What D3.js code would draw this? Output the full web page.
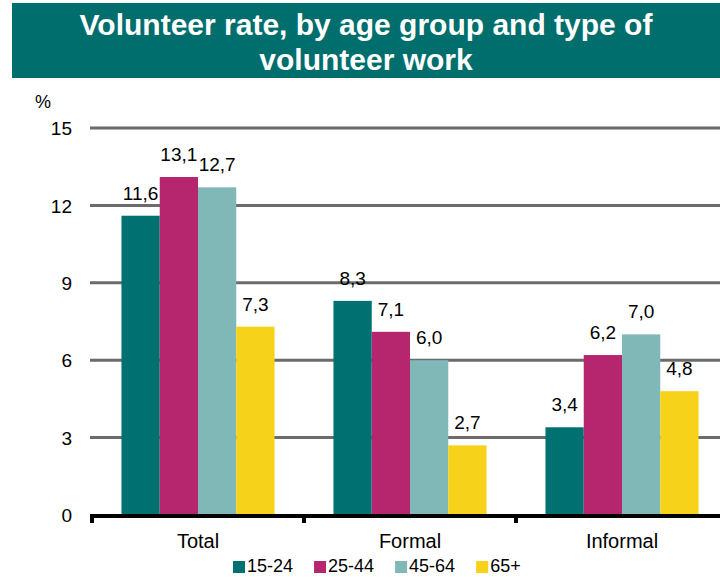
<!DOCTYPE html>
<html>
<head>
<meta charset="utf-8">
<script src="https://cdn.jsdelivr.net/npm/d3@7"></script>
<style>
  html, body { margin: 0; padding: 0; background: #ffffff; }
  svg { display: block; font-family: "Liberation Sans", Arial, sans-serif; }
</style>
</head>
<body>
<svg id="chart" width="720" height="577"></svg>
<script>
const titleLines = ["Volunteer rate, by age group and type of", "volunteer work"];
const categories = ["Total", "Formal", "Informal"];
const seriesNames = ["15-24", "25-44", "45-64", "65+"];
const seriesColors = ["#007070", "#b5266f", "#80b7b7", "#f6d21b"];
const values15_24 = [11.6, 8.3, 3.4];
const values25_44 = [13.1, 7.1, 6.2];
const values45_64 = [12.7, 6.0, 7.0];
const values65plus = [7.3, 2.7, 4.8];
const yTicks = [0, 3, 6, 9, 12, 15];
const yUnit = "%";

const seriesValues = [values15_24, values25_44, values45_64, values65plus];

const svg = d3.select("#chart");

// Title banner
svg.append("rect").attr("x", 12).attr("y", 3).attr("width", 708).attr("height", 75).attr("fill", "#006e6d");
svg.selectAll("text.title").data(titleLines).enter().append("text")
  .attr("class", "title")
  .attr("x", 366).attr("y", (d, i) => 35 + i * 35)
  .attr("text-anchor", "middle")
  .attr("fill", "#ffffff")
  .attr("font-weight", "bold")
  .attr("font-size", 30)
  .text(d => d);

// Scales
const x0 = d3.scaleBand().domain(categories).range([92, 728]).paddingInner(0).paddingOuter(0);
const x1 = d3.scaleBand().domain(seriesNames).range([0, x0.bandwidth()]).paddingInner(0).paddingOuter(0.77);
const y = d3.scaleLinear().domain([0, 15]).range([515, 128]);

// Gridlines
svg.append("g").selectAll("line").data(yTicks.filter(t => t > 0)).enter().append("line")
  .attr("x1", 90).attr("x2", 720)
  .attr("y1", d => y(d)).attr("y2", d => y(d))
  .attr("stroke", "#6b6b6b").attr("stroke-width", 3);

// Y axis labels
const yAxis = d3.axisLeft(y).tickValues(yTicks).tickSize(0).tickPadding(0).tickFormat(d3.format("d"));
const yg = svg.append("g").attr("transform", "translate(72,0)").call(yAxis);
yg.select(".domain").remove();
yg.selectAll("text").attr("font-size", 19).attr("fill", "#000").attr("font-family", "Liberation Sans, Arial, sans-serif").attr("dy", "0.35em");

svg.append("text").attr("x", 35).attr("y", 108).attr("font-size", 18).attr("fill", "#000").text(yUnit);

// Bars
const groups = svg.append("g").selectAll("g").data(categories).enter().append("g")
  .attr("transform", d => `translate(${x0(d)},0)`);

groups.selectAll("rect").data((c, ci) => seriesNames.map((s, si) => ({s, si, v: seriesValues[si][ci]})))
  .enter().append("rect")
  .attr("x", d => x1(d.s))
  .attr("width", x1.bandwidth())
  .attr("y", d => y(d.v))
  .attr("height", d => y(0) - y(d.v))
  .attr("fill", d => seriesColors[d.si]);

groups.selectAll("text").data((c, ci) => seriesNames.map((s, si) => ({s, si, v: seriesValues[si][ci]})))
  .enter().append("text")
  .attr("x", d => x1(d.s) + x1.bandwidth() / 2)
  .attr("y", d => y(d.v) - 16)
  .attr("text-anchor", "middle")
  .attr("font-size", 19)
  .attr("fill", "#000")
  .text(d => d3.format(".1f")(d.v).replace(".", ","));

// X axis
svg.append("line").attr("x1", 90).attr("x2", 720).attr("y1", y(0) + 1).attr("y2", y(0) + 1)
  .attr("stroke", "#000").attr("stroke-width", 4);
svg.append("g").selectAll("line").data(categories).enter().append("line")
  .attr("x1", d => x0(d)).attr("x2", d => x0(d))
  .attr("y1", y(0)).attr("y2", y(0) + 8)
  .attr("stroke", "#000").attr("stroke-width", 4);

svg.append("g").selectAll("text").data(categories).enter().append("text")
  .attr("x", d => x0(d) + x0.bandwidth() / 2)
  .attr("y", 548)
  .attr("text-anchor", "middle")
  .attr("font-size", 20)
  .attr("fill", "#000")
  .text(d => d);

// Legend
const legend = svg.append("g");
let lx = 233;
seriesNames.forEach((s, i) => {
  legend.append("rect").attr("x", lx).attr("y", 561).attr("width", 12).attr("height", 12).attr("fill", seriesColors[i]);
  const t = legend.append("text").attr("x", lx + 14).attr("y", 572).attr("font-size", 18).attr("fill", "#000").text(s);
  lx += 14 + t.node().getComputedTextLength() + 21;
});
</script>
</body>
</html>
